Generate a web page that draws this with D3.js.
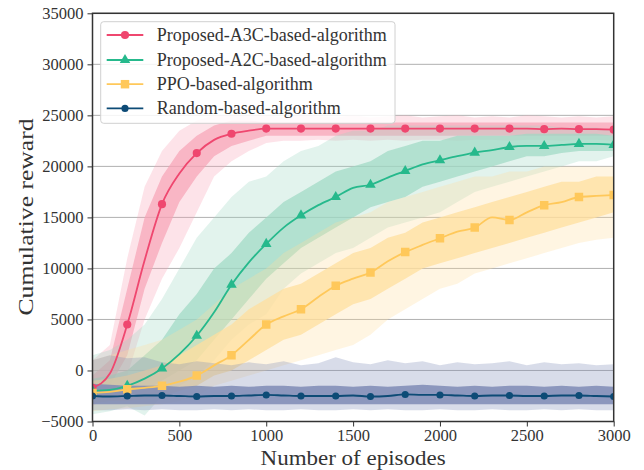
<!DOCTYPE html>
<html lang="en">

<head>
    <meta charset="UTF-8">
    <script src="https://d3js.org/d3.v7.min.js"></script>
    <title>Cumulative reward</title>
    <style>
        body { margin: 0; background: #fff; }
    </style>
</head>

<body>
    <svg class="chart"></svg>
    <script>
        // episodes sampled every 100
        var episodes = [0, 100, 200, 300, 400, 500, 600, 700, 800, 900, 1000, 1100, 1200, 1300, 1400, 1500,
            1600, 1700, 1800, 1900, 2000, 2100, 2200, 2300, 2400, 2500, 2600, 2700, 2800, 2900, 3000];

        var seriesNames = ["Proposed-A3C-based-algorithm", "Proposed-A2C-based-algorithm", "PPO-based-algorithm", "Random-based-algorithm"];
        var xTicks = [0, 500, 1000, 1500, 2000, 2500, 3000];
        var yTicks = [-5000, 0, 5000, 10000, 15000, 20000, 25000, 30000, 35000];

        // smoothed curves
        var a3cSmooth = [-1700, -300, 4500, 10800, 16300, 19300, 21300, 22600, 23200, 23500, 23700, 23700, 23700, 23700, 23700, 23700,
            23700, 23700, 23700, 23700, 23700, 23700, 23700, 23700, 23700, 23700, 23650, 23700, 23650, 23650, 23600];
        var a2cSmooth = [-2000, -1900, -1500, -800, 200, 1600, 3400, 5700, 8400, 10600, 12400, 14000, 15200, 16200, 17000, 17900,
            18200, 18900, 19550, 20200, 20600, 21000, 21350, 21600, 21900, 22000, 22000, 22100, 22200, 22200, 22100];
        var ppoSmooth = [-2200, -2100, -1850, -1700, -1500, -1100, -500, 500, 1500, 3000, 4500, 5300, 6000, 7200, 8300, 9000,
            9600, 10700, 11600, 12300, 12950, 13600, 14000, 15000, 14750, 15500, 16200, 16500, 17000, 17100, 17200];
        var randSmooth = [-2500, -2550, -2500, -2450, -2450, -2500, -2550, -2500, -2500, -2450, -2400, -2450, -2500, -2500, -2500, -2450,
            -2550, -2500, -2350, -2400, -2400, -2450, -2500, -2450, -2450, -2500, -2500, -2450, -2450, -2500, -2550];

        // raw episode spread: outer (spikes) and core (dense part)
        var a3cOuterLo = [-3500, -2500, -500, 5000, 9000, 12000, 15500, 19000, 20500, 21500, 22300, 22500, 22500, 22600, 22500, 22600,
            22500, 22600, 22500, 22600, 22600, 22500, 22600, 22600, 22500, 22600, 22600, 22500, 22600, 22600, 22500];
        var a3cOuterHi = [1000, 2500, 11000, 18000, 21500, 23500, 24500, 25000, 25000, 25000, 25000, 24800, 25000, 24900, 24800, 25000,
            24800, 24900, 25000, 24800, 24900, 25000, 24800, 24900, 24800, 25000, 24900, 24800, 24900, 24800, 24900];
        var a3cCoreLo = [-2800, -1500, 1500, 8000, 12500, 16500, 19000, 21000, 22000, 22500, 23000, 23000, 23000, 23000, 23000, 23000,
            23000, 23000, 23000, 23000, 23000, 23000, 23000, 23000, 23000, 23000, 23000, 23000, 23000, 23000, 23000];
        var a3cCoreHi = [-500, 1000, 8000, 15000, 19000, 21500, 23000, 24000, 24500, 24500, 24300, 24300, 24300, 24300, 24300, 24300,
            24300, 24300, 24300, 24300, 24300, 24300, 24300, 24300, 24300, 24300, 24300, 24300, 24300, 24300, 24300];

        var a2cOuterLo = [-4300, -4000, -3500, -4400, -2500, -1500, -500, 1000, 3000, 4500, 5500, 8000, 9500, 10500, 11500, 12000,
            13000, 14000, 14500, 15000, 15500, 16500, 17500, 18000, 18500, 19000, 19500, 20000, 20500, 20500, 21000];
        var a2cOuterHi = [1500, 2000, 3000, 4500, 7000, 10000, 13000, 15000, 17000, 18500, 19000, 20500, 21500, 22000, 23000, 23500,
            23500, 24000, 24000, 24000, 24000, 24000, 24000, 24000, 24000, 24000, 24000, 23800, 23800, 23800, 23500];
        var a2cCoreLo = [-3200, -3000, -2800, -2000, -1000, 0, 1000, 3000, 5000, 7000, 9000, 10500, 12000, 13000, 14000, 15000,
            16000, 16500, 17000, 18000, 18500, 19000, 19500, 20000, 20500, 21000, 21000, 21300, 21500, 21500, 21500];
        var a2cCoreHi = [-800, -500, 0, 1500, 3000, 5500, 7500, 10000, 11500, 13500, 15000, 16500, 17500, 18500, 19500, 20000,
            20500, 21500, 22000, 22500, 22500, 23000, 23000, 23000, 23000, 23200, 23200, 23200, 23200, 23200, 23000];

        var ppoOuterLo = [-4000, -3800, -3700, -3500, -3300, -3000, -2500, -1500, -1000, -500, 0, 500, 1000, 1500, 2000, 2500,
            3500, 5000, 6000, 7000, 8000, 8500, 9500, 10000, 10500, 11000, 11500, 12000, 12500, 12800, 13000];
        var ppoOuterHi = [1000, 1500, 2000, 2500, 3000, 4000, 5000, 6500, 8000, 9000, 10000, 11500, 12500, 13500, 14500, 15000,
            15500, 16500, 17000, 17500, 18000, 18500, 19000, 19000, 19500, 19500, 20000, 20000, 20000, 20000, 20000];
        var ppoCoreLo = [-3200, -3000, -3000, -2800, -2500, -2000, -1500, -500, 0, 1000, 2000, 3000, 3500, 4500, 5500, 6500,
            7000, 8000, 9000, 10000, 10500, 11000, 11500, 12000, 12500, 13000, 13500, 14000, 14500, 15000, 15500];
        var ppoCoreHi = [-1000, -800, -500, 0, 500, 1500, 2500, 3500, 4500, 6000, 7000, 8000, 8500, 9500, 10500, 11500,
            12000, 13000, 13500, 14500, 15000, 15500, 16000, 16500, 17000, 17500, 18000, 18500, 18500, 19000, 19000];

        var randOuterLo = [-3900, -3900, -3800, -3900, -3800, -3900, -3900, -3800, -3900, -3800, -3900, -3900, -3800, -3900, -3900, -3800,
            -3900, -3800, -3900, -3900, -3800, -3900, -3900, -3800, -3900, -3900, -3800, -3900, -3800, -3900, -3900];
        var randOuterHi = [1000, 1500, 1200, 1300, 800, 600, 900, 700, 500, 800, 600, 900, 500, 700, 1300, 800,
            600, 1000, 700, 900, 500, 800, 600, 700, 900, 500, 800, 600, 700, 500, 600];
        var randCoreLo = [-3300, -3300, -3300, -3300, -3300, -3300, -3300, -3300, -3300, -3300, -3300, -3300, -3300, -3300, -3300, -3300,
            -3300, -3300, -3300, -3300, -3300, -3300, -3300, -3300, -3300, -3300, -3300, -3300, -3300, -3300, -3300];
        var randCoreHi = [-1300, -1400, -1500, -1500, -1500, -1600, -1500, -1600, -1500, -1600, -1500, -1500, -1600, -1500, -1500, -1600,
            -1500, -1600, -1500, -1400, -1500, -1600, -1500, -1600, -1500, -1500, -1600, -1500, -1600, -1500, -1600];

        var lineColors = ["#ef476f", "#26b98c", "#ffc85a", "#0d4b76"];
        var rawColors = ["#f7a3b5", "#9ed8c3", "#ffdf9e", "#7f8bb5"];
        var coreOpacity = [0.7, 0.7, 0.75, 0.85];
        var symbols = [d3.symbolCircle, d3.symbolTriangle, d3.symbolSquare, d3.symbolCircle];
        var symbolSizes = [52, 48, 72, 40];
        var serif = "'Liberation Serif', 'Times New Roman', serif";

        var smooth = [a3cSmooth, a2cSmooth, ppoSmooth, randSmooth];
        var outer = [[a3cOuterLo, a3cOuterHi], [a2cOuterLo, a2cOuterHi], [ppoOuterLo, ppoOuterHi], [randOuterLo, randOuterHi]];
        var core = [[a3cCoreLo, a3cCoreHi], [a2cCoreLo, a2cCoreHi], [ppoCoreLo, ppoCoreHi], [randCoreLo, randCoreHi]];

        var W = 644, H = 470;
        var margin = { left: 92.5, right: 30.3, top: 13.3, bottom: 48.5 };

        var svg = d3.select(".chart")
            .attr("width", W)
            .attr("height", H);

        var x = d3.scaleLinear().domain([0, 3000]).range([margin.left, W - margin.right]);
        var y = d3.scaleLinear().domain([-5000, 35000]).range([H - margin.bottom, margin.top]);

        // grid
        svg.append("g")
            .selectAll("line")
            .data(yTicks)
            .enter()
            .append("line")
            .attr("x1", x(0))
            .attr("x2", x(3000))
            .attr("y1", function(d) { return y(d); })
            .attr("y2", function(d) { return y(d); })
            .attr("stroke", "#b0b0b0")
            .attr("stroke-width", 1);

        svg.append("clipPath").attr("id", "clip")
            .append("rect")
            .attr("x", x(0)).attr("y", y(35000))
            .attr("width", x(3000) - x(0)).attr("height", y(-5000) - y(35000));

        var plot = svg.append("g").attr("clip-path", "url(#clip)");

        function band(lo, hi) {
            return d3.area()
                .x(function(d, i) { return x(episodes[i]); })
                .y0(function(d, i) { return y(lo[i]); })
                .y1(function(d, i) { return y(hi[i]); })(episodes);
        }

        for (var s = 0; s < 4; s++) {
            plot.append("path")
                .attr("d", band(outer[s][0], outer[s][1]))
                .attr("fill", rawColors[s])
                .attr("fill-opacity", 0.3);
            plot.append("path")
                .attr("d", band(core[s][0], core[s][1]))
                .attr("fill", rawColors[s])
                .attr("fill-opacity", coreOpacity[s]);
        }

        var line = d3.line()
            .x(function(d, i) { return x(episodes[i]); })
            .y(function(d) { return y(d); })
            .curve(d3.curveMonotoneX);

        for (var s = 0; s < 4; s++) {
            plot.append("path")
                .attr("d", line(smooth[s]))
                .attr("fill", "none")
                .attr("stroke", lineColors[s])
                .attr("stroke-width", 1.8);

            plot.append("g")
                .selectAll("path")
                .data(smooth[s].filter(function(d, i) { return i % 2 == 0; }))
                .enter()
                .append("path")
                .attr("transform", function(d, i) { return "translate(" + x(episodes[i * 2]) + "," + y(d) + ")"; })
                .attr("d", d3.symbol().type(symbols[s]).size(symbolSizes[s]))
                .attr("fill", lineColors[s]);
        }

        // axes
        var xAxis = svg.append("g")
            .attr("transform", "translate(0," + y(-5000) + ")")
            .call(d3.axisBottom(x).tickValues(xTicks).tickSize(5).tickPadding(3).tickFormat(d3.format("d")));
        var yAxis = svg.append("g")
            .attr("transform", "translate(" + x(0) + ",0)")
            .call(d3.axisLeft(y).tickValues(yTicks).tickSize(5).tickPadding(4)
                .tickFormat(function(d) { return d < 0 ? "\u2212" + Math.abs(d) : d; }));

        [xAxis, yAxis].forEach(function(a) {
            a.attr("font-family", serif).attr("font-size", 16.5);
            a.select(".domain").remove();
            a.selectAll(".tick line").attr("stroke", "#333").attr("stroke-width", 1);
            a.selectAll(".tick text").attr("fill", "#333");
        });

        // frame
        svg.append("rect")
            .attr("x", x(0))
            .attr("y", y(35000))
            .attr("width", x(3000) - x(0))
            .attr("height", y(-5000) - y(35000))
            .attr("fill", "none")
            .attr("stroke", "#333")
            .attr("stroke-width", 1.5);

        // axis titles
        svg.append("text")
            .attr("x", x(1500))
            .attr("y", 465)
            .attr("text-anchor", "middle")
            .attr("font-family", serif)
            .attr("font-size", 21.5)
            .attr("fill", "#333")
            .attr("textLength", 185)
            .attr("lengthAdjust", "spacingAndGlyphs")
            .text("Number of episodes");

        svg.append("text")
            .attr("transform", "translate(33," + 217 + ") rotate(-90)")
            .attr("text-anchor", "middle")
            .attr("font-family", serif)
            .attr("font-size", 22)
            .attr("fill", "#333")
            .attr("textLength", 197)
            .attr("lengthAdjust", "spacingAndGlyphs")
            .text("Cumulative reward");

        // legend
        var legend = svg.append("g");
        legend.append("rect")
            .attr("x", 100.7)
            .attr("y", 21.7)
            .attr("width", 294.3)
            .attr("height", 101.6)
            .attr("rx", 3)
            .attr("fill", "#fff")
            .attr("fill-opacity", 0.85)
            .attr("stroke", "#d0d0d0")
            .attr("stroke-width", 1);

        var rowY = [35, 60, 84.2, 108.4];
        for (var s = 0; s < 4; s++) {
            legend.append("line")
                .attr("x1", 106.7).attr("x2", 143.3)
                .attr("y1", rowY[s]).attr("y2", rowY[s])
                .attr("stroke", lineColors[s])
                .attr("stroke-width", 1.8);
            legend.append("path")
                .attr("transform", "translate(125," + rowY[s] + ")")
                .attr("d", d3.symbol().type(symbols[s]).size(symbolSizes[s]))
                .attr("fill", lineColors[s]);
            legend.append("text")
                .attr("x", 156.7)
                .attr("y", rowY[s] + 6)
                .attr("font-family", serif)
                .attr("font-size", 18)
                .attr("fill", "#333")
                .text(seriesNames[s]);
        }
    </script>
</body>

</html>
